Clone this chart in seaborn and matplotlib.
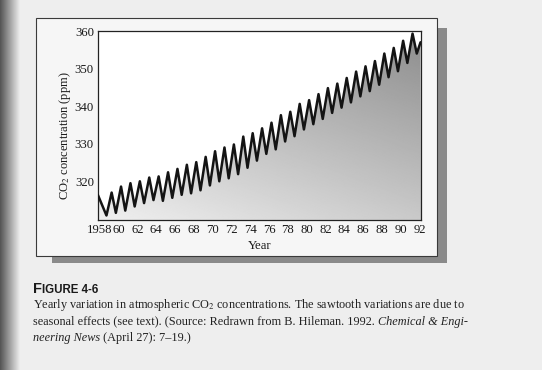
import numpy as np
import pandas as pd
import matplotlib
matplotlib.use("Agg")
import matplotlib.pyplot as plt
from matplotlib.patches import Rectangle, Polygon
import seaborn as sns

# ---------------- data ----------------
start_date = 1957.8
start_ppm = 316.3
trough_years = list(range(1958, 1992))
trough_ppm = [310.9, 311.6, 312.2, 313.3, 314.2, 315.0, 314.8, 315.6, 316.4, 316.8,
              317.6, 318.9, 320.0, 320.8, 321.9, 323.6, 325.5, 327.3, 328.5, 330.6,
              332.0, 333.8, 335.2, 336.6, 338.2, 339.6, 341.0, 342.6, 344.0, 345.7,
              347.7, 349.3, 351.5, 354.0]
peak_years = list(range(1959, 1992))
peak_ppm = [317.0, 318.6, 319.5, 320.0, 321.0, 321.3, 322.4, 323.3, 324.4, 325.1,
            326.5, 328.0, 329.0, 329.8, 331.9, 332.8, 334.1, 335.6, 337.6, 338.5,
            340.6, 341.6, 343.2, 344.8, 346.0, 347.5, 349.2, 350.6, 352.0, 354.0,
            355.5, 357.4, 359.3]
end_date = 1992.1
end_ppm = 357.0

xtick_years = list(range(1958, 1993, 2))
xtick_labels = ["1958"] + [str(y)[2:] for y in xtick_years[1:]]
ytick_values = [320, 330, 340, 350, 360]

dates = ([start_date] + [y + 0.70 for y in trough_years] + [y + 0.25 for y in peak_years]
         + [end_date])
values = [start_ppm] + trough_ppm + peak_ppm + [end_ppm]
df = pd.DataFrame({"date": dates, "ppm": values}).sort_values("date").reset_index(drop=True)

# ---------------- figure ----------------
W, H = 542, 370
sns.set_style("white")
plt.rcParams['font.family'] = ['Liberation Serif', 'DejaVu Serif']
plt.rcParams['mathtext.fontset'] = 'stix'

fig = plt.figure(figsize=(W / 100, H / 100), dpi=100)
fig.patch.set_facecolor('#eeeeee')

def fx(px):
    return px / W

def fy(py):
    return 1 - py / H

# left gutter shadow of the scanned page
gut = fig.add_axes([0, 0, fx(20), 1])
gut.imshow(np.linspace(0.33, 0.93, 50)[None, :], cmap='gray', vmin=0, vmax=1,
           aspect='auto', extent=[0, 1, 0, 1])
gut.axis('off')

# framed box with drop shadow
fig.add_artist(Rectangle((fx(437), fy(263)), fx(10), fy(28) - fy(263),
                         transform=fig.transFigure, facecolor='#8a8a8a', edgecolor='none', zorder=0))
fig.add_artist(Rectangle((fx(52), fy(263)), fx(395), fy(256) - fy(263),
                         transform=fig.transFigure, facecolor='#8a8a8a', edgecolor='none', zorder=0))
fig.add_artist(Rectangle((fx(36), fy(256)), fx(437 - 36), fy(18) - fy(256),
                         transform=fig.transFigure, facecolor='#f6f6f6', edgecolor='#3a3a3a',
                         linewidth=0.8, zorder=0.5))

ax = fig.add_axes([fx(98), fy(220), fx(421 - 98), fy(31) - fy(220)])
ax.set_facecolor('white')
ax.set_zorder(2)

x0, x1 = 1957.8, 1992.15
y0, y1 = 309.7, 360.0
ax.set_xlim(x0, x1)
ax.set_ylim(y0, y1)

# gradient fill under the curve
nx, ny = 300, 200
xn = np.linspace(0, 1, nx)[None, :]
yn = np.linspace(0, 1, ny)[:, None]
grad = np.clip(0.94 - 0.15 * xn - 0.24 * yn, 0, 1)
im = ax.imshow(grad, cmap='gray', vmin=0, vmax=1, origin='lower', aspect='auto',
               extent=[x0, x1, y0, y1], zorder=1, interpolation='bilinear')
verts = [(x0, y0)] + list(zip(df["date"], df["ppm"])) + [(x1, y0)]
clip = Polygon(verts, closed=True, facecolor='none', edgecolor='none', transform=ax.transData)
ax.add_patch(clip)
im.set_clip_path(clip)

sns.lineplot(data=df, x="date", y="ppm", ax=ax, color='#141414', linewidth=1.8,
             zorder=3, estimator=None, sort=False)

ax.set_xticks(xtick_years)
ax.set_xticklabels(xtick_labels)
ax.set_xticks(list(range(1958, 1993)), minor=True)
ax.set_yticks(ytick_values)
ax.set_yticklabels([str(v) for v in ytick_values])
ax.tick_params(axis='both', which='major', direction='in', length=4, width=0.8,
               labelsize=9.2, pad=3, colors='#1a1a1a')
ax.tick_params(axis='x', which='minor', direction='in', length=2.2, width=0.8,
               bottom=True, colors='#1a1a1a')
ax.tick_params(axis='y', which='minor', left=False)
ax.tick_params(top=False, right=False)
for s in ax.spines.values():
    s.set_visible(True)
    s.set_color('#222222')
    s.set_linewidth(0.9)

ax.set_xlabel("Year", fontsize=9.2, labelpad=3, color='#1a1a1a')
ax.set_ylabel("CO$_2$ concentration (ppm)", fontsize=9.0, color='#1a1a1a')
ax.yaxis.set_label_coords(-0.078, 0.445)

# ---------------- caption ----------------
renderer = fig.canvas.get_renderer()

def chain(x_px, y_px, parts, **kw):
    for text, extra in parts:
        opts = dict(kw)
        opts.update(extra)
        t = fig.text(fx(x_px), fy(y_px), text, va='baseline', ha='left', **opts)
        bb = t.get_window_extent(renderer)
        x_px += bb.width

cap_kw = dict(fontsize=8.8, color='#222222', family=['Liberation Serif', 'DejaVu Serif'])
chain(33, 293, [("F", dict(fontsize=10.5)), ("IGURE 4-6", dict(fontsize=8.3))],
      color='#1a1a1a', family=['Liberation Sans', 'DejaVu Sans'], fontweight='bold')
chain(33, 308, [("Yearly variation in atmospheric CO$_2$ concentrations. The sawtooth variations are due to", {})], **cap_kw)
chain(33, 324.5, [("seasonal effects (see text). (Source: Redrawn from B. Hileman. 1992. ", {}),
                  ("Chemical & Engi-", dict(style='italic'))], **cap_kw)
chain(33, 341, [("neering News", dict(style='italic')), (" (April 27): 7\u201319.)", {})], **cap_kw)

fig.savefig("out.png", dpi=100, facecolor=fig.get_facecolor())
